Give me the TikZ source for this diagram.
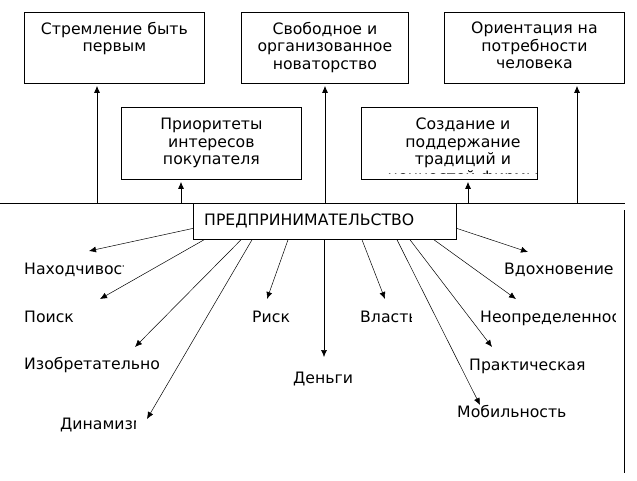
\documentclass[tikz,border=0pt]{standalone}
\usepackage{fontspec}
\setmainfont{DejaVu Sans}
\usetikzlibrary{arrows.meta, positioning}

\begin{document}
\begin{tikzpicture}[x=1pt, y=-1pt,
        box/.style={draw, line width=0.8pt, anchor=north west, inner sep=0pt},
        boxtext/.style={anchor=north, align=center, inner sep=0pt, font=\fontsize{15.7}{17.5}\selectfont},
        word/.style={anchor=base west, inner sep=0pt, font=\fontsize{15.7}{17.5}\selectfont},
        up/.style={-{Latex[length=7pt, width=6pt]}, line width=0.8pt, shorten >=2pt},
        ray/.style={-{Latex[length=7pt, width=6pt]}, line width=0.5pt}
    ]
    \useasboundingbox (0,0) rectangle (637,480);

    % upper row
    \node[box, minimum width=180pt, minimum height=71pt] (goal1) at (24,12) {};
    \node[box, minimum width=167pt, minimum height=71pt] (goal2) at (241,12) {};
    \node[box, minimum width=180pt, minimum height=71pt] (goal3) at (444,12) {};
    \node[boxtext] (goal1text) at ([yshift=-10pt]goal1.north) {Стремление быть\\первым};
    \node[boxtext] (goal2text) at ([yshift=-10pt]goal2.north) {Свободное и\\организованное\\новаторство};
    \node[boxtext] (goal3text) at ([yshift=-10pt]goal3.north) {Ориентация на\\потребности\\человека};

    % middle row
    \node[box, minimum width=180pt, minimum height=72pt] (prio) at (121,107) {};
    \node[box, minimum width=176pt, minimum height=72pt] (trad) at (361,107) {};
    \node[boxtext] (priotext) at ([yshift=-11pt]prio.north) {Приоритеты\\интересов\\покупателя};
    \begin{scope}
        \clip (362,108) rectangle (536,173.8);
        \node[boxtext] (tradtext) at (463,118) {Создание и\\поддержание\\традиций и\\ценностей фирмы};
    \end{scope}

    % base line and centre
    \coordinate (baseL) at (0,203);
    \coordinate (baseR) at (625,203);
    \draw[line width=0.8pt] (baseL) -- (baseR);
    \node[box, minimum width=263pt, minimum height=36pt] (ent) at (193,203) {};
    \node[word] (enttext) at (204,225) {ПРЕДПРИНИМАТЕЛЬСТВО};
    \coordinate (sideT) at (624,210);
    \coordinate (sideB) at (624,473);
    \draw[line width=0.8pt] (sideT) -- (sideB);

    % arrows up
    \coordinate (s1) at (97,203);
    \coordinate (s2) at (181,203);
    \coordinate (s3) at (325,203);
    \coordinate (s4) at (468,203);
    \coordinate (s5) at (577,203);
    \draw[up] (s1) -- (s1 |- goal1.south);
    \draw[up] (s2) -- (s2 |- prio.south);
    \draw[up] (s3) -- (s3 |- goal2.south);
    \draw[up] (s4) -- (s4 |- trad.south);
    \draw[up] (s5) -- (s5 |- goal3.south);

    % arrow ends
    \coordinate (e1) at (89,251);
    \coordinate (e2) at (100,299);
    \coordinate (e3) at (135,347);
    \coordinate (e4) at (147,419);
    \coordinate (e5) at (267,299);
    \coordinate (e6) at (324,357);
    \coordinate (e7) at (385,299);
    \coordinate (e8) at (480,405);
    \coordinate (e9) at (492,347);
    \coordinate (e10) at (516,299);
    \coordinate (e11) at (528,252);

    \draw[ray] ([yshift=-7pt]ent.west) -- (e1);
    \draw[ray] ([xshift=11pt]ent.south west) -- (e2);
    \draw[ray] ([xshift=48pt]ent.south west) -- (e3);
    \draw[ray] ([xshift=59pt]ent.south west) -- (e4);
    \draw[ray] ([xshift=95pt]ent.south west) -- (e5);
    \draw[ray] ([xshift=131pt]ent.south west) -- (e6);
    \draw[ray] ([xshift=169pt]ent.south west) -- (e7);
    \draw[ray] ([xshift=204pt]ent.south west) -- (e8);
    \draw[ray] ([xshift=217pt]ent.south west) -- (e9);
    \draw[ray] ([xshift=241pt]ent.south west) -- (e10);
    \draw[ray] ([yshift=-7pt]ent.east) -- (e11);

    % labels
    \begin{scope}
        \clip (20,255) rectangle (123,285);
        \node[word] (find) at (24,274) {Находчивость};
    \end{scope}
    \node[word] (search) at (24,322) {Поиск};
    \begin{scope}
        \clip (20,350) rectangle (158,380);
        \node[word] (invent) at (24,369) {Изобретательность};
    \end{scope}
    \begin{scope}
        \clip (55,410) rectangle (135,440);
        \node[word] (dyn) at (60,429) {Динамизм};
    \end{scope}
    \node[word] (risk) at (252,322) {Риск};
    \node[word] (money) at (293,383) {Деньги};
    \begin{scope}
        \clip (355,305) rectangle (411,335);
        \node[word] (power) at (360,322) {Власть};
    \end{scope}
    \node[word] (mob) at (457,417) {Мобильность};
    \node[word] (pract) at (469,370) {Практическая};
    \begin{scope}
        \clip (475,305) rectangle (615,335);
        \node[word] (uncert) at (480,322) {Неопределенность};
    \end{scope}
    \node[word] (insp) at (504,274) {Вдохновение};
\end{tikzpicture}
\end{document}
